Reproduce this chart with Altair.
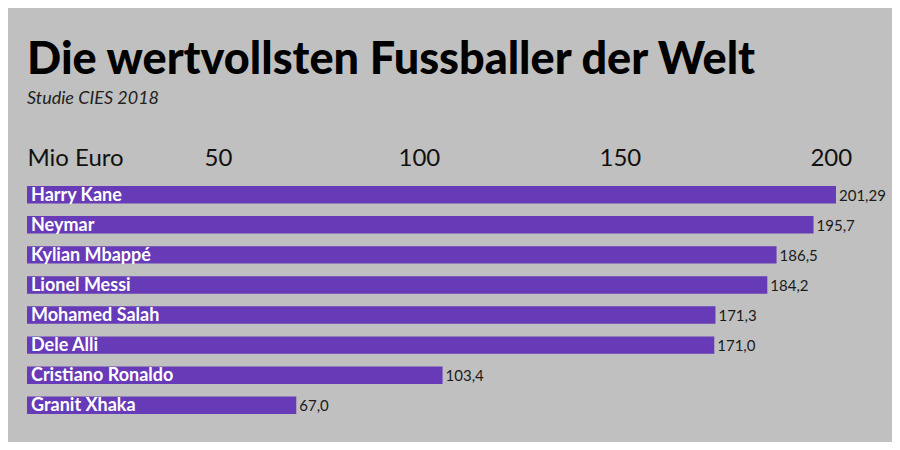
import altair as alt
import pandas as pd

players = ["Harry Kane", "Neymar", "Kylian Mbappé", "Lionel Messi",
           "Mohamed Salah", "Dele Alli", "Cristiano Ronaldo", "Granit Xhaka"]
values = [201.29, 195.7, 186.5, 184.2, 171.3, 171.0, 103.4, 67.0]
value_labels = ["201,29", "195,7", "186,5", "184,2", "171,3", "171,0", "103,4", "67,0"]
tick_values = [0, 50, 100, 150, 200]

df = pd.DataFrame({"player": players, "value": values, "vlabel": value_labels})

FONT = "Lato"
PURPLE = "#673ab7"
BG = "#c0c0c0"

y = alt.Y("player:N", sort=players, axis=None,
          scale=alt.Scale(paddingInner=0.42, paddingOuter=0.2))

bars = alt.Chart(df).mark_bar(color=PURPLE, cornerRadius=0).encode(
    x=alt.X("value:Q",
            scale=alt.Scale(domain=[0, 210], nice=False),
            axis=alt.Axis(orient="top", values=tick_values, title=None,
                          domain=False, ticks=False, grid=False,
                          labelFont=FONT, labelFontSize=24, labelColor="#111",
                          labelPadding=10,
                          labelExpr="datum.value == 0 ? 'Mio Euro' : datum.label",
                          labelOffset=alt.condition("datum.value > 0 && datum.value < 200",
                                                    alt.value(-10), alt.value(0)),
                          labelAlign=alt.condition("datum.value == 0",
                                                   alt.value("left"),
                                                   alt.value("center")))),
    y=y,
)

names = alt.Chart(df).mark_text(align="left", baseline="middle", dx=4, dy=1,
                                font=FONT, fontSize=18, fontWeight="bold",
                                color="white").encode(
    x=alt.datum(0), y=y, text="player:N")

vals = alt.Chart(df).mark_text(align="left", baseline="middle", dx=3, dy=1,
                               font=FONT, fontSize=15, color="#1a1a1a").encode(
    x="value:Q", y=y, text="vlabel:N")

chart = (bars + names + vals).properties(
    width=844, height=240,
    title=alt.Title("Die wertvollsten Fussballer der Welt",
                    subtitle="Studie CIES 2018",
                    anchor="start", font=FONT, fontSize=45, fontWeight=900,
                    color="#000", subtitleFont=FONT, subtitleFontSize=18,
                    subtitleFontStyle="italic", subtitleColor="#222",
                    subtitlePadding=7, offset=38),
    autosize=alt.AutoSizeParams(type="none"),
    padding={"left": 19, "top": 172, "right": 21, "bottom": 22},
    background=BG,
).configure_view(stroke=None)

chart.save("out.html", embed_options={"renderer": "svg", "actions": False})
